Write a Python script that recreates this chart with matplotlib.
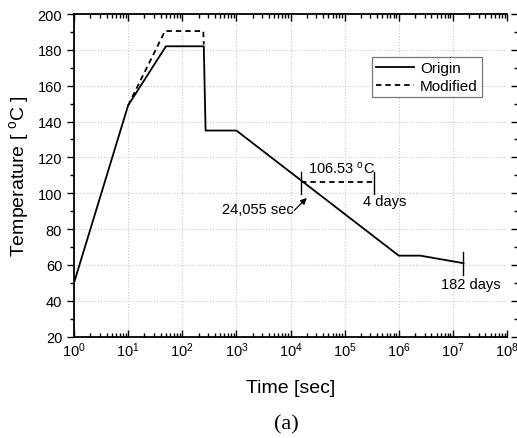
import matplotlib
matplotlib.use("Agg")
import matplotlib.pyplot as plt
from matplotlib.ticker import LogLocator, MultipleLocator, NullFormatter

plt.rcParams['font.family'] = ['Liberation Sans', 'DejaVu Sans']
plt.rcParams['mathtext.default'] = 'regular'

# Data
origin_time = [1, 10, 50, 250, 270, 1000, 1.0e6, 2.5e6, 1.57e7]
origin_temp = [50, 149, 182, 182, 135, 135, 65.2, 65.2, 61.0]
mod_time = [10, 48, 245, 250]
mod_temp = [149, 190.5, 190.5, 183]

# Annotations
hold_start = 15600      # position of left marker
hold_end = 345600       # 4 days
hold_temp = 106.53
end_time = 1.57e7       # 182 days
end_temp = 61.0

fig = plt.figure(figsize=(5.17, 4.39), dpi=100)
ax = fig.add_axes([0.1431, 0.2308, 0.8376, 0.735])

ax.plot(origin_time, origin_temp, color='black', lw=1.3, label='Origin')
ax.plot(mod_time, mod_temp, color='black', lw=1.3, linestyle=(0, (3, 2.2)), label='Modified')

# hold annotation
ax.plot([hold_start, hold_end], [hold_temp, hold_temp], color='black', lw=1.3, linestyle=(0, (3, 2.2)))
ax.plot([hold_start, hold_start], [112, 99.6], color='black', lw=1.0)
ax.plot([hold_end, hold_end], [112, 99.6], color='black', lw=1.0)
ax.plot([end_time, end_time], [67, 54.4], color='black', lw=1.0)

ax.text(2.1e4, 114.1, '106.53 $^{o}$C', fontsize=10.5, ha='left', va='center')
ax.text(2.17e5, 95.9, '4 days', fontsize=10.5, ha='left', va='center')
ax.text(1.17e4, 91.0, '24,055 sec', fontsize=10.5, ha='right', va='center')
ax.annotate('', xy=(2.0e4, 97.4), xytext=(1.17e4, 90.4),
            arrowprops=dict(arrowstyle='-|>', color='black', lw=0.9, mutation_scale=9,
                            shrinkA=0, shrinkB=0))
ax.text(6.0e6, 49.4, '182 days', fontsize=10.5, ha='left', va='center')

ax.set_xscale('log')
ax.set_xlim(1, 1e8)
ax.set_ylim(20, 200)
ax.xaxis.set_major_locator(LogLocator(base=10, numticks=20))
ax.xaxis.set_minor_locator(LogLocator(base=10, subs=range(2, 10), numticks=100))
ax.xaxis.set_minor_formatter(NullFormatter())
ax.yaxis.set_major_locator(MultipleLocator(20))
ax.yaxis.set_minor_locator(MultipleLocator(10))

ax.grid(True, which='major', color='#c8c8c8', linestyle=':', linewidth=0.8)
for s in ['left', 'bottom', 'top']:
    ax.spines[s].set_linewidth(1.3)
ax.spines['right'].set_visible(False)

ax.tick_params(axis='x', which='both', direction='in', top=True, bottom=True, labelsize=10.5, width=1.0)
ax.tick_params(axis='x', which='major', length=5, pad=3)
ax.tick_params(axis='x', which='minor', length=3)
ax.tick_params(axis='y', which='both', direction='out', left=True, right=False, labelsize=10.5, width=1.0)
ax.tick_params(axis='y', which='major', length=5)
ax.tick_params(axis='y', which='minor', length=3)

ax.set_xlabel('Time [sec]', fontsize=14, labelpad=14)
ax.set_ylabel('Temperature [ $^{o}$C ]', fontsize=14, labelpad=5)

leg = ax.legend(loc='upper right', bbox_to_anchor=(0.9416, 0.8658), fontsize=11,
                frameon=True, fancybox=False, framealpha=1, edgecolor='#777777',
                handlelength=2.5, labelspacing=0.25, borderpad=0.25, handletextpad=0.4,
                borderaxespad=0)
leg.get_frame().set_linewidth(0.9)

# right-side tick marks (partially cropped axis)
ax2 = fig.add_axes([1.002, 0.2308, 0.001, 0.735])
ax2.set_ylim(20, 200)
ax2.set_xticks([])
for s in ax2.spines.values():
    s.set_visible(False)
ax2.patch.set_visible(False)
ax2.yaxis.set_major_locator(MultipleLocator(20))
ax2.yaxis.set_minor_locator(MultipleLocator(10))
ax2.tick_params(axis='y', which='both', direction='out', labelleft=False, width=1.0)
ax2.tick_params(axis='y', which='major', length=5)
ax2.tick_params(axis='y', which='minor', length=3)

fig.text(286 / 517, 1 - 425 / 439, '(a)', fontsize=16, family='Liberation Serif',
         ha='center', va='center')

fig.savefig('out.png', dpi=100)
